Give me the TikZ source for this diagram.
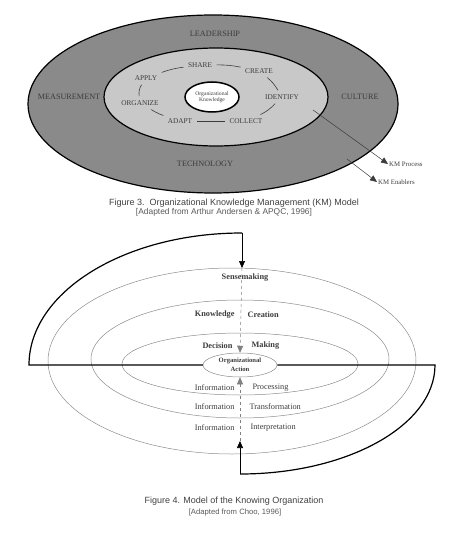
\documentclass[tikz,border=0pt]{standalone}
\usepackage{fontspec}
\setmainfont{Liberation Serif}
\newfontfamily\capfont{Liberation Sans}
\usepackage{xcolor}
\usepackage{tikz}
\usetikzlibrary{arrows.meta}
\usetikzlibrary{shapes.geometric}
\definecolor{ringdark}{RGB}{138,138,138}
\definecolor{ringlight}{RGB}{200,200,200}
\definecolor{inkgray}{RGB}{60,60,60}
\tikzset{
  enabler/.style={font=\fontsize{8.2}{9}\selectfont, text=inkgray},
  procword/.style={font=\fontsize{7.3}{8}\selectfont, text=inkgray},
  cycle link/.style={draw=inkgray, line width=0.6pt, shorten <=1pt, shorten >=1pt},
  ring line/.style={draw=black!45, line width=0.5pt},
  loop line/.style={draw=black, line width=1.2pt},
  choo bold/.style={font=\bfseries\fontsize{8.3}{9}\selectfont, text=inkgray},
  choo word/.style={font=\fontsize{8.3}{9}\selectfont, text=inkgray},
  tip/.style={-{Triangle[length=7pt, width=6pt]}},
}

\begin{document}
\begin{tikzpicture}[x=1pt,y=-1pt]
\useasboundingbox (0,0) rectangle (459,540);
\fill[ringdark, draw=black, line width=1.2pt] (213,104) ellipse [x radius=185pt, y radius=89pt];
\fill[ringlight, draw=black, line width=1.2pt] (216,97) ellipse [x radius=112pt, y radius=49pt];
\node[ellipse, draw, fill=white, line width=1.5pt, minimum width=54pt, minimum height=30pt, inner sep=0pt, align=center, font=\fontsize{5.6}{6.2}\selectfont, text=inkgray] (core) at (212,97) {Organizational\\Knowledge};
\node[enabler] (lead) at (215,34) {LEADERSHIP};
\node[enabler] (meas) at (69,97) {MEASUREMENT};
\node[enabler] (cult) at (360,97) {CULTURE};
\node[enabler] (tech) at (205,164) {TECHNOLOGY};
\node[procword] (share) at (200,65) {SHARE};
\node[procword] (create) at (259,71) {CREATE};
\node[procword] (identify) at (282,97) {IDENTIFY};
\node[procword] (collect) at (246,121) {COLLECT};
\node[procword] (adapt) at (180,121) {ADAPT};
\node[procword] (organize) at (140,103) {ORGANIZE};
\node[procword] (apply) at (146,78) {APPLY};
\draw[cycle link] (share) to[bend left=6] (create);
\draw[cycle link] (create) to[bend left=10] (identify);
\draw[cycle link] (identify) to[bend left=10] (collect);
\draw[cycle link] (collect) -- (adapt);
\draw[cycle link] (adapt) to[bend left=6] (organize);
\draw[cycle link] (organize) to[bend left=20] (apply);
\draw[cycle link] (apply) to[bend left=6] (share);
\coordinate (kmp start) at (313,110);
\coordinate (kme start) at (347,159);
\node[anchor=west, inner sep=1pt, font=\fontsize{6.8}{8}\selectfont, text=inkgray] (kmproc) at (388,164) {KM Process};
\node[anchor=west, inner sep=1pt, font=\fontsize{6.8}{8}\selectfont, text=inkgray] (kmenab) at (377,182) {KM Enablers};
\draw[tip, draw=inkgray, line width=0.5pt] (kmp start) -- (kmproc.west);
\draw[tip, draw=inkgray, line width=0.5pt] (kme start) -- (kmenab.west);
\node[font=\capfont\fontsize{9}{10}\selectfont, text=black!75] (cap3) at (234,203) {Figure 3.\ \ Organizational Knowledge Management (KM) Model};
\node[font=\capfont\fontsize{8.4}{9}\selectfont, text=black!65] (src3) at (224,212.5) {[Adapted from Arthur Andersen \& APQC, 1996]};

\draw[ring line] (232,361) ellipse [x radius=184pt, y radius=93pt];
\draw[ring line] (240,359) ellipse [x radius=149pt, y radius=59pt];
\draw[ring line] (240,364) ellipse [x radius=118pt, y radius=31pt];
\node[ellipse, draw=black!45, line width=0.5pt, fill=white, minimum width=74pt, minimum height=24pt, inner sep=0pt, align=center, font=\bfseries\fontsize{6.6}{9}\selectfont, text=inkgray] (orgact) at (240,365) {Organizational\\Action};
\coordinate (top corner) at (242,233);
\coordinate (top in) at (242,268);
\coordinate (low corner) at (240,474);
\coordinate (low in) at (240,441);
\draw[loop line] (orgact.west) -- (29,365) arc [start angle=180, end angle=90, x radius=213pt, y radius=132pt];
\draw[loop line] (orgact.east) -- (435,365) arc [start angle=0, end angle=-90, x radius=195pt, y radius=109pt];
\draw[tip, draw=black, line width=0.6pt] (top corner) -- (top in);
\draw[tip, draw=black, line width=0.6pt] (low corner) -- (low in);
\draw[tip, draw=black!50, dashed, line width=0.5pt] (top in) -- (orgact.north);
\draw[tip, draw=black!50, dashed, line width=0.5pt] (low in) -- (orgact.south);
\node[choo bold] (sense) at (245,278) {Sensemaking};
\node[choo bold, anchor=east] (know) at (238,315) {Knowledge};
\node[choo bold, anchor=west] (creat) at (244,315) {Creation};
\node[choo bold, anchor=east] (decis) at (236,346) {Decision};
\node[choo bold, anchor=west] (mak) at (248,346) {Making};
\node[choo word, anchor=east] (info a) at (238,388) {Information};
\node[choo word, anchor=west] (procs) at (249,388) {Processing};
\node[choo word, anchor=east] (info b) at (238,407) {Information};
\node[choo word, anchor=west] (transf) at (246,407) {Transformation};
\node[choo word, anchor=east] (info c) at (238,428) {Information};
\node[choo word, anchor=west] (interp) at (247,428) {Interpretation};
\node[font=\capfont\fontsize{9}{10}\selectfont, text=black!75] (cap4) at (234,501) {Figure 4. Model of the Knowing Organization};
\node[font=\capfont\fontsize{7.7}{8}\selectfont, text=black!65] (src4) at (235,513) {[Adapted from Choo, 1996]};
\end{tikzpicture}
\end{document}
